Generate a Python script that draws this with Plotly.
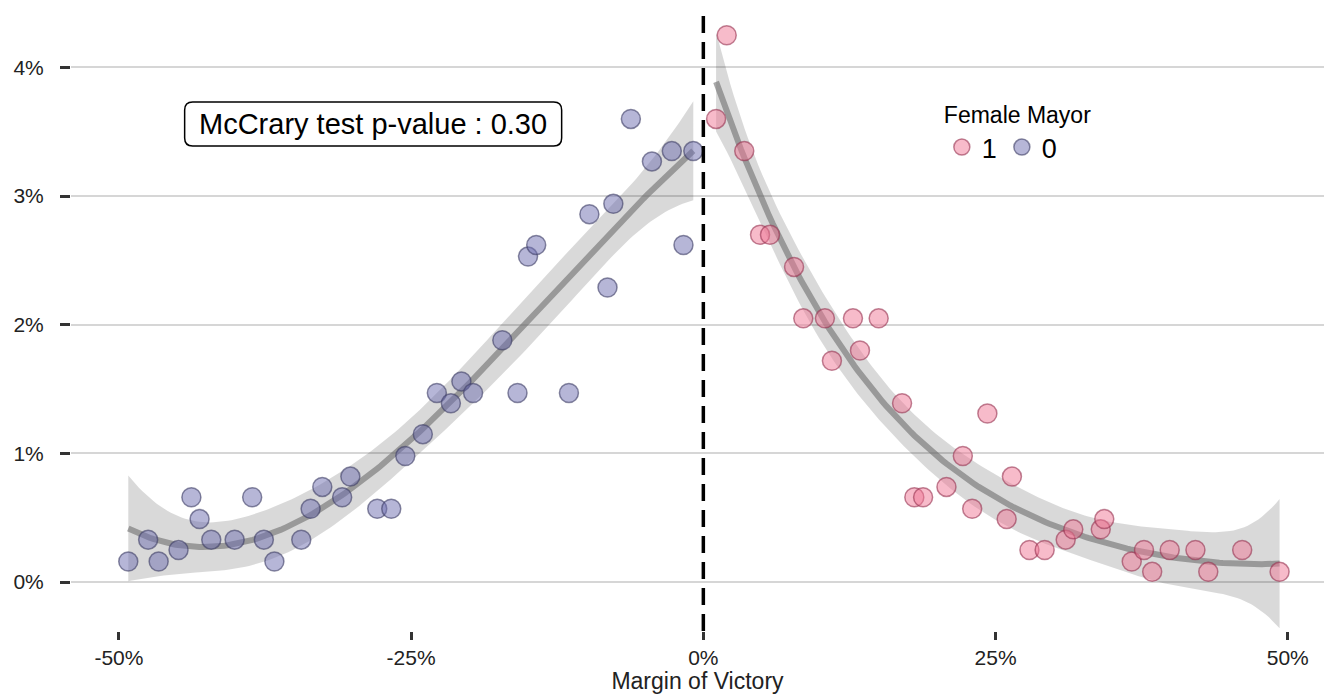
import numpy as np
import plotly.graph_objects as go

# ---------------- data (percent units) ----------------
left_margin = [-49.2, -47.5, -46.6, -44.9, -43.8, -43.1, -42.1, -40.1, -38.6, -37.6,
               -36.7, -34.4, -33.6, -32.6, -30.9, -30.2, -27.9, -26.7, -25.5, -24.0,
               -22.8, -21.6, -20.7, -19.7, -17.2, -15.9, -15.0, -14.3, -11.5, -9.75,
               -8.2, -7.7, -6.2, -4.4, -2.7, -1.7, -0.86]
left_density = [0.16, 0.33, 0.16, 0.25, 0.66, 0.49, 0.33, 0.33, 0.66, 0.33,
                0.16, 0.33, 0.57, 0.74, 0.66, 0.82, 0.57, 0.57, 0.98, 1.15,
                1.47, 1.39, 1.56, 1.47, 1.88, 1.47, 2.53, 2.62, 1.47, 2.86,
                2.29, 2.94, 3.60, 3.27, 3.35, 2.62, 3.35]

right_margin = [1.09, 2.0, 3.5, 4.85, 5.7, 7.76, 8.55, 10.4, 11.0, 12.8,
                13.4, 15.0, 17.0, 18.05, 18.8, 20.8, 22.2, 23.0, 24.3, 25.95,
                26.4, 27.9, 29.2, 31.0, 31.65, 34.0, 34.3, 36.65, 37.7, 38.4,
                39.9, 42.1, 43.2, 46.1, 49.3]
right_density = [3.60, 4.25, 3.35, 2.70, 2.70, 2.45, 2.05, 2.05, 1.72, 2.05,
                 1.80, 2.05, 1.39, 0.66, 0.66, 0.74, 0.98, 0.57, 1.31, 0.49,
                 0.82, 0.25, 0.25, 0.33, 0.41, 0.41, 0.49, 0.16, 0.25, 0.08,
                 0.25, 0.25, 0.08, 0.25, 0.08]

x_tickvals = [-50, -25, 0, 25, 50]
x_ticktext = ["-50%", "-25%", "0%", "25%", "50%"]
y_tickvals = [0, 1, 2, 3, 4]
y_ticktext = ["0%", "1%", "2%", "3%", "4%"]

pvalue_text = "McCrary test p-value : 0.30"
legend_title = "Female Mayor"


# ---------------- polynomial smoother with 95% confidence band ----------------
def poly_fit(x, y, grid, deg=3):
    x = np.asarray(x, float)
    y = np.asarray(y, float)
    c, s = x.mean(), x.std()
    X = np.vander((x - c) / s, deg + 1)
    G = np.vander((np.asarray(grid) - c) / s, deg + 1)
    XtX_inv = np.linalg.inv(X.T @ X)
    beta = XtX_inv @ X.T @ y
    res = y - X @ beta
    dof = len(x) - (deg + 1)
    sigma2 = res @ res / dof
    fit = G @ beta
    se = np.sqrt(sigma2 * np.einsum("ij,jk,ik->i", G, XtX_inv, G))
    tq = 1.96 + 2.4 / dof
    return fit, fit - tq * se, fit + tq * se


fig = go.Figure()

band_color = "rgba(0,0,0,0.15)"
line_color = "rgba(110,110,110,0.6)"

for xs, ys, deg in [(left_margin, left_density, 3), (right_margin, right_density, 4)]:
    grid = np.linspace(min(xs), max(xs), 160)
    fit, lo, hi = poly_fit(xs, ys, grid, deg)
    fig.add_trace(go.Scatter(
        x=np.concatenate([grid, grid[::-1]]),
        y=np.concatenate([hi, lo[::-1]]),
        fill="toself", fillcolor=band_color, line=dict(width=0),
        mode="lines", hoverinfo="skip", showlegend=False))
    fig.add_trace(go.Scatter(
        x=grid, y=fit, mode="lines",
        line=dict(color=line_color, width=6),
        hoverinfo="skip", showlegend=False))

fig.add_trace(go.Scatter(
    x=right_margin, y=right_density, mode="markers", name="1",
    marker=dict(size=19, color="rgba(240,120,150,0.5)",
                line=dict(color="rgba(150,50,80,0.6)", width=1.5))))
fig.add_trace(go.Scatter(
    x=left_margin, y=left_density, mode="markers", name="0",
    marker=dict(size=19, color="rgba(110,110,175,0.5)",
                line=dict(color="rgba(60,60,100,0.6)", width=1.5))))

# dashed cutoff line
fig.add_shape(type="line", xref="x", yref="paper", x0=0, x1=0, y0=0, y1=1,
              line=dict(color="black", width=3.5, dash="17px,9px"))

# rounded label box
box_x, box_y = -28.25, 3.561
hw, hh, r = 188.5, 22, 8
path = (f"M {-hw+r},{-hh} L {hw-r},{-hh} Q {hw},{-hh} {hw},{-hh+r} "
        f"L {hw},{hh-r} Q {hw},{hh} {hw-r},{hh} L {-hw+r},{hh} "
        f"Q {-hw},{hh} {-hw},{hh-r} L {-hw},{-hh+r} Q {-hw},{-hh} {-hw+r},{-hh} Z")
fig.add_shape(type="path", xref="x", yref="y", xsizemode="pixel", ysizemode="pixel",
              xanchor=box_x, yanchor=box_y, path=path,
              line=dict(color="black", width=1.5), fillcolor="white", layer="above")
fig.add_annotation(x=box_x, y=box_y, xref="x", yref="y", text=pvalue_text,
                   showarrow=False, font=dict(size=29, color="black",
                                              family="Liberation Sans, Arial, sans-serif"))

font_fam = "Liberation Sans, Arial, Helvetica, sans-serif"
fig.update_layout(
    width=1324, height=694,
    margin=dict(l=71, r=0, t=7, b=63),
    plot_bgcolor="white", paper_bgcolor="white",
    font=dict(family=font_fam, color="black"),
    legend=dict(
        title=dict(text=legend_title, side="top", font=dict(size=23)),
        orientation="h", x=0.695, y=0.862, xanchor="left", yanchor="top",
        font=dict(size=27), bgcolor="rgba(0,0,0,0)", itemsizing="trace",
        tracegroupgap=0,
    ),
    xaxis=dict(
        range=[-54.1, 53.1], tickvals=x_tickvals, ticktext=x_ticktext,
        showgrid=False, zeroline=False, showline=False,
        ticks="outside", ticklen=8, tickwidth=3, tickcolor="#333333",
        tickfont=dict(size=21, color="#222222"),
        title=dict(text="Margin of Victory", font=dict(size=23, color="#222222"), standoff=5),
    ),
    yaxis=dict(
        range=[-0.38, 4.47], tickvals=y_tickvals, ticktext=y_ticktext,
        showgrid=True, gridcolor="#d6d6d6", gridwidth=2,
        zeroline=False, showline=False,
        ticks="outside", ticklen=10, tickwidth=3, tickcolor="#333333",
        tickfont=dict(size=21, color="#222222"), ticklabelstandoff=12,
    ),
)

fig.write_html("out.html")
